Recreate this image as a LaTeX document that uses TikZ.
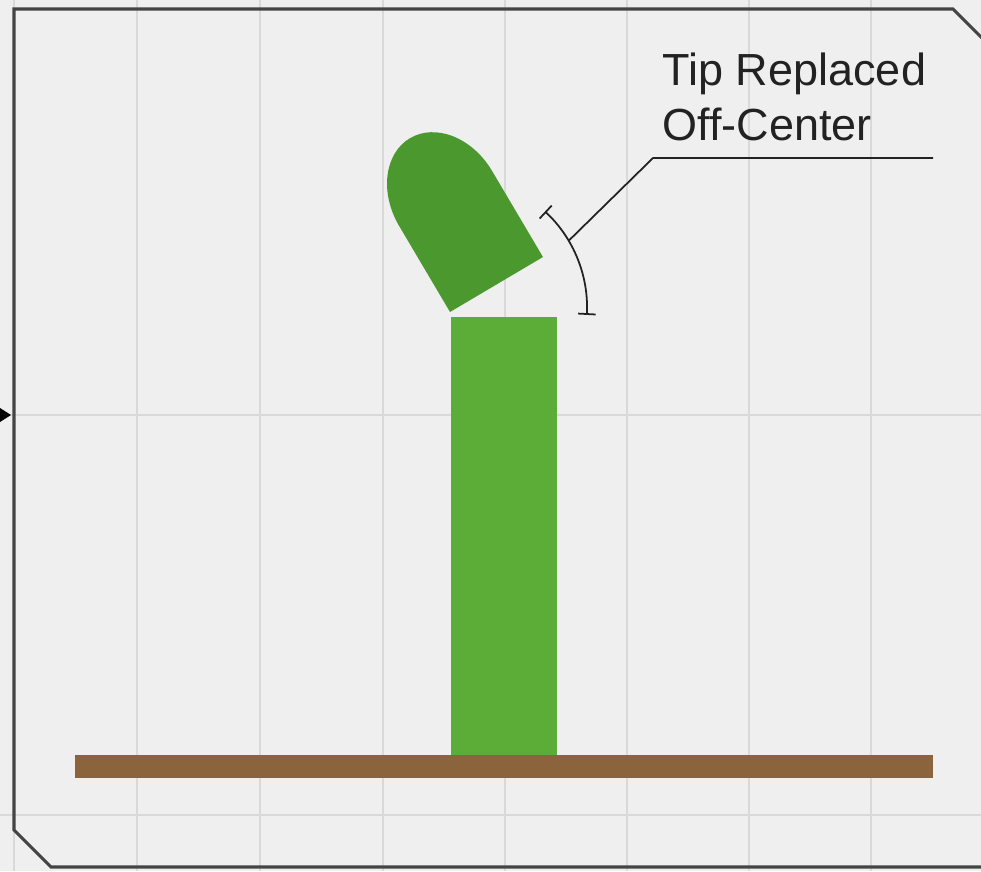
\documentclass[tikz,border=0pt]{standalone}
\usepackage{fontspec}
\setmainfont{Liberation Sans}
\usepackage{xcolor}
\definecolor{cPaper}{HTML}{EFEFEF}
\definecolor{cGrid}{HTML}{D9D9D9}
\definecolor{cFrame}{HTML}{444444}
\definecolor{cStem}{HTML}{5CAD37}
\definecolor{cTip}{HTML}{4B992E}
\definecolor{cSoil}{HTML}{8B643D}
\definecolor{cInk}{HTML}{222222}
\usepackage{tikz}
\usetikzlibrary{arrows.meta}
\tikzset{
  grid-line/.style={draw=cGrid,line width=0.6pt},
  frame-line/.style={draw=cFrame,line width=0.9pt,line join=miter},
  part-stem/.style={fill=cStem},
  part-tip/.style={fill=cTip},
  part-soil/.style={fill=cSoil},
  angle-mark/.style={draw=cInk,line width=0.5pt,{Bar[width=5pt]}-{Bar[width=5pt]}},
  leader/.style={draw=cInk,line width=0.5pt},
  note/.style={font=\fontsize{12.8}{15.6}\selectfont,text=cInk,align=left,inner sep=0pt},
}

\begin{document}
\begin{tikzpicture}
  \useasboundingbox (0,0) rectangle (9.81,8.71);
  \clip (0,0) rectangle (9.81,8.71);
  \fill[cPaper] (0,0) rectangle (9.81,8.71);
  % grid
  \foreach \gx in {0.14,1.37,2.60,3.83,5.05,6.27,7.49,8.71}
    \draw[grid-line] (\gx,0) -- (\gx,8.71);
  \foreach \gy in {0.56,4.56}
    \draw[grid-line] (0,\gy) -- (9.81,\gy);
  % frame, chamfered corners
  \draw[frame-line] (10.3,7.85) -- (9.53,8.62) -- (0.14,8.62) -- (0.14,0.41)
    -- (0.51,0.04) -- (10.3,0.04);
  \fill[black] (0,4.63) -- (0.11,4.56) -- (0,4.49) -- cycle;
  % soil, stem and tilted tip
  \fill[part-soil] (0.75,0.93) rectangle (9.33,1.16);
  \fill[part-stem] (4.51,1.16) rectangle (5.57,5.54);
  \begin{scope}[shift={(4.965,5.865)},rotate=30.6]
    \fill[part-tip] (-0.54,0) -- (-0.54,1.0)
      arc[start angle=180,end angle=0,x radius=0.54,y radius=0.7] -- (0.54,0) -- cycle;
  \end{scope}
  % angle mark + callout
  \coordinate (pivot) at (4.55,5.63);
  \draw[angle-mark] ([shift={(-3:1.32)}]pivot) arc[start angle=-3,end angle=47,radius=1.32];
  \coordinate (foot) at ([shift={(30.6:1.32)}]pivot);
  \coordinate (knee) at (6.53,7.13);
  \coordinate (leader-end) at (9.33,7.13);
  \draw[leader] (foot) -- (knee) -- (leader-end);
  \node[note,anchor=north west] (note) at (6.62,8.19) {Tip Replaced\\Off-Center};
\end{tikzpicture}
\end{document}
